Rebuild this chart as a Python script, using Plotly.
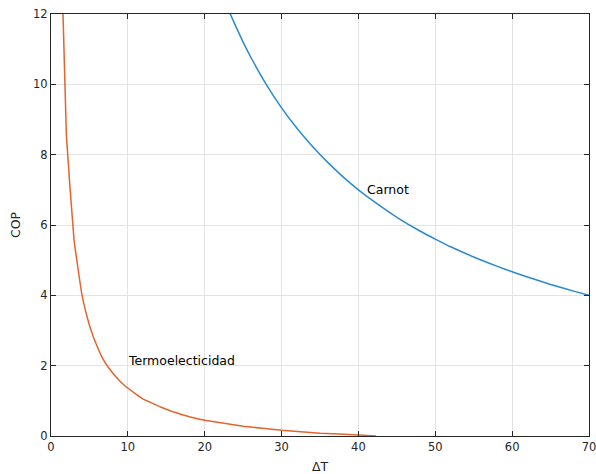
import plotly.graph_objects as go

# Termoelectricidad curve
termo_dt = [1, 2, 3, 4, 4.5, 5, 5.5, 6, 6.5, 7, 7.5, 8, 8.5, 9, 9.5, 10, 11, 12, 13, 14,
            15, 16, 18, 20, 25, 30, 35, 40, 42.3]
termo_cop = [16.4, 8.56, 5.57, 4.05, 3.55, 3.15, 2.82, 2.55, 2.3, 2.1, 1.94, 1.8, 1.67,
             1.55, 1.45, 1.36, 1.2, 1.05, 0.95, 0.85, 0.76, 0.68, 0.55, 0.45, 0.28, 0.16,
             0.08, 0.03, 0.0]

# Carnot curve
carnot_dt = [22, 23, 24, 25, 26, 28, 30, 32, 34, 36, 38, 40, 42, 45, 48, 50, 52, 55,
             58, 60, 62, 65, 68, 70]
carnot_cop = [12.73, 12.17, 11.67, 11.2, 10.77, 10.0, 9.33, 8.75, 8.24, 7.78, 7.37, 7.0,
              6.67, 6.22, 5.83, 5.6, 5.38, 5.09, 4.83, 4.67, 4.52, 4.31, 4.12, 4.0]

x_ticks = [0, 10, 20, 30, 40, 50, 60, 70]
y_ticks = [0, 2, 4, 6, 8, 10, 12]

labels = ["Carnot", "Termoelecticidad"]
label_x = [40.8, 9.7]
label_y = [7.0, 2.16]

fig = go.Figure()
fig.add_trace(go.Scatter(x=termo_dt, y=termo_cop, mode="lines",
                         line=dict(color="#E2652D", width=1.5, shape="spline", smoothing=0.3),
                         showlegend=False))
fig.add_trace(go.Scatter(x=carnot_dt, y=carnot_cop, mode="lines",
                         line=dict(color="#2A8AD0", width=1.5, shape="spline", smoothing=0.5),
                         showlegend=False))

for t, xx, yy in zip(labels, label_x, label_y):
    fig.add_annotation(x=xx, y=yy, text=t, showarrow=False, xanchor="left",
                       yanchor="middle", font=dict(size=12.5, color="#000000"))

axis_common = dict(
    showline=True, linecolor="#262626", linewidth=1.2, mirror="ticks",
    ticks="inside", ticklen=5, tickcolor="#262626", tickwidth=1,
    showgrid=True, gridcolor="#e3e3e3", gridwidth=1, zeroline=False,
    tickfont=dict(size=11.5, color="#262626"), automargin=False,
    ticklabeloverflow="allow",
)

fig.update_xaxes(range=[0, 70], tickvals=x_ticks, title=dict(text="ΔT", standoff=9,
                 font=dict(size=12.5, color="#262626")), **axis_common)
fig.update_yaxes(range=[0, 12], tickvals=y_ticks, title=dict(text="COP", standoff=9,
                 font=dict(size=12.5, color="#262626")), **axis_common)

fig.update_layout(
    width=596, height=474,
    margin=dict(l=51, r=7, t=14, b=38),
    plot_bgcolor="white", paper_bgcolor="white",
    font=dict(family="DejaVu Sans", size=11, color="#262626"),
)

fig.write_html("out.html")
